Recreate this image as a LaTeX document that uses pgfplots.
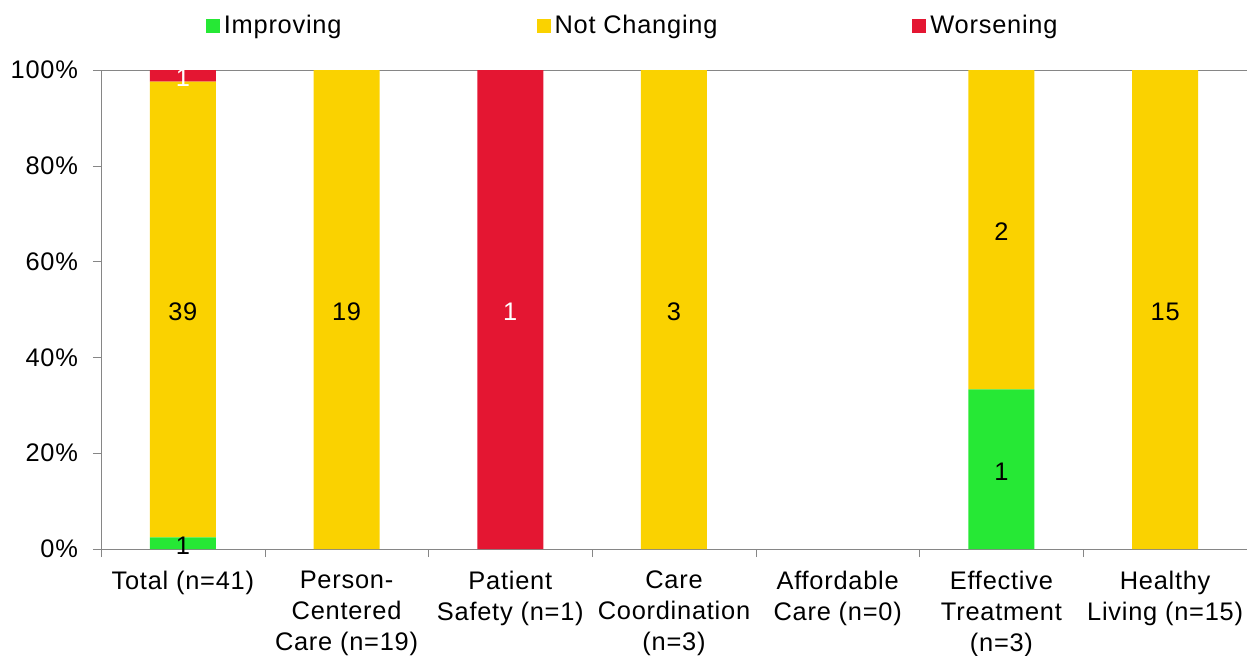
\documentclass[border=0pt]{standalone}
\usepackage{pgfplots}
\pgfplotsset{compat=1.18}
\usepackage{pgfplotstable}
\usepackage{fontspec}
\setmainfont[LetterSpace=3]{Liberation Sans}
\definecolor{cgreen}{RGB}{38,232,53}
\definecolor{cyellow}{RGB}{250,210,0}
\definecolor{cred}{RGB}{228,22,50}
\definecolor{caxis}{RGB}{134,134,134}

\pgfplotstableread{
x improving notchanging worsening
0 2.439 95.122 2.439
1 0 100 0
2 0 0 100
3 0 100 0
4 0 0 0
5 33.333 66.667 0
6 0 100 0
}\bars

\pgfplotstableread{
x y label
0 1.22 1
0 50.00 39
1 50 19
3 50 3
5 16.67 1
5 66.67 2
6 50 15
}\blacklabels

\pgfplotstableread{
x y label
0 98.78 1
2 50 1
}\whitelabels

\newcommand\fs{\fontsize{12.7}{15.5}\selectfont}

\begin{document}
\begin{tikzpicture}
\pgfplotsset{common/.style={width=573pt,height=239.5pt,scale only axis,
  xmin=-0.5,xmax=6.5,ymin=0,ymax=100}}
\begin{axis}[common, ybar stacked, bar width=33pt,
  axis lines*=left,
  axis line style={caxis},
  /pgf/number format/assume math mode=true,
  ytick={0,20,...,100},
  yticklabel={\pgfmathprintnumber{\tick}\%},
  tick align=outside,
  major tick length=4pt,
  minor tick length=4pt,
  y tick style={caxis},
  xtick={0,...,6},
  major x tick style={draw=none},
  minor xtick={-0.5,0.5,...,6.5},
  minor x tick style={caxis},
  xticklabels={{Total (n=41)},{Person-\\Centered\\Care (n=19)},{Patient\\Safety (n=1)},{Care\\Coordination\\(n=3)},{Affordable\\Care (n=0)},{Effective\\Treatment\\(n=3)},{Healthy\\Living (n=15)}},
  ticklabel style={font=\fs, text=black},
  xticklabel style={align=center, yshift=-3.5pt},
  yticklabel style={xshift=-4pt},
  legend columns=3,
  legend style={at={(0.0912,1.092)}, anchor=west, draw=none, fill=none,
    font=\fs, inner sep=0pt,
    nodes={inner sep=2pt},
    /tikz/every even column/.append style={column sep=95.5pt}},
  legend image code/.code={\draw[#1,draw=none] (0pt,-3.5pt) rectangle (7pt,3.5pt);},
  clip=false,
]
\addplot[fill=cgreen, draw=none] table[x=x,y=improving]{\bars};
\addplot[fill=cyellow, draw=none] table[x=x,y=notchanging]{\bars};
\addplot[fill=cred, draw=none] table[x=x,y=worsening]{\bars};
\legend{Improving,Not Changing,Worsening}
\draw[caxis] (rel axis cs:0,1) -- (rel axis cs:1,1);
\coordinate (O) at (rel axis cs:0,0);
\end{axis}
\begin{axis}[common, hide axis]
\addplot[draw=none, no markers, nodes near coords, point meta=explicit symbolic,
  nodes near coords style={anchor=center, font=\fs, text=black, yshift=-1.2pt}]
  table[x=x,y=y,meta=label]{\blacklabels};
\addplot[draw=none, no markers, nodes near coords, point meta=explicit symbolic,
  nodes near coords style={anchor=center, font=\fs, text=white, yshift=-1.2pt}]
  table[x=x,y=y,meta=label]{\whitelabels};
\end{axis}
\pgfresetboundingbox
\path[use as bounding box] (O) ++(-50.5pt,-53pt) rectangle ++(623.5pt,327.5pt);
\end{tikzpicture}
\end{document}
